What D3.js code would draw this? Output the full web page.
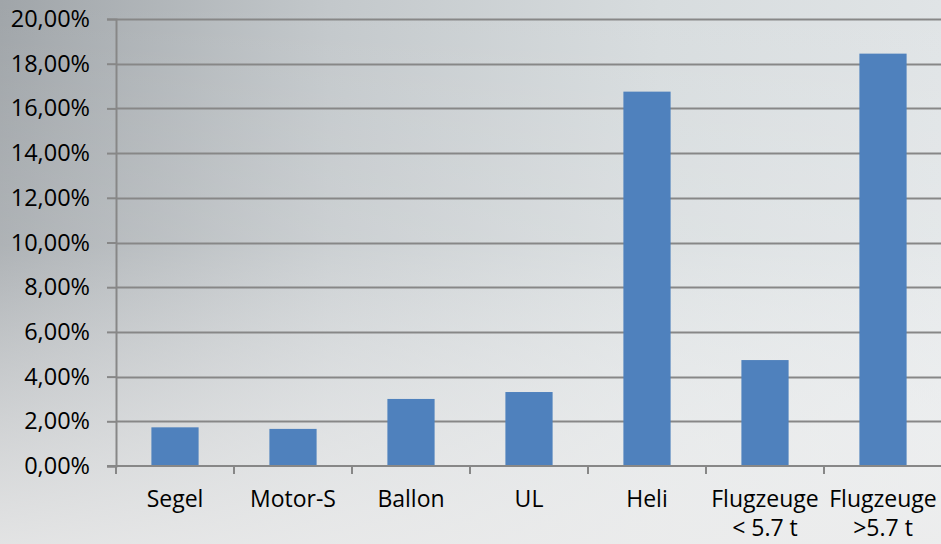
<!DOCTYPE html>
<html>
<head>
<meta charset="utf-8">
<script src="https://cdn.jsdelivr.net/npm/d3@7"></script>
<style>
  body { margin: 0; }
  svg { display: block; }
</style>
</head>
<body>
<div id="chart"></div>
<script>
var width = 941, height = 544

var categories = ['Segel', 'Motor-S', 'Ballon', 'UL', 'Heli', 'Flugzeuge\n< 5.7 t', 'Flugzeuge\n>5.7 t']
var values = [0.0173, 0.0166, 0.0300, 0.0331, 0.1675, 0.0474, 0.1845]
var yTicks = [0, 0.02, 0.04, 0.06, 0.08, 0.10, 0.12, 0.14, 0.16, 0.18, 0.20]

var margin = {top: 19, right: -1, bottom: 78, left: 116}

var svg = d3.select('#chart')
    .append('svg')
    .attr('width', width)
    .attr('height', height)

var defs = svg.append('defs')

var bgH = defs.append('linearGradient').attr('id', 'bgH')
    .attr('x1', 0).attr('x2', 1).attr('y1', 0).attr('y2', 0)
bgH.append('stop').attr('offset', '0%').attr('stop-color', '#a0a5a9')
bgH.append('stop').attr('offset', '35%').attr('stop-color', '#c3c8cb')
bgH.append('stop').attr('offset', '70%').attr('stop-color', '#d7dcde')
bgH.append('stop').attr('offset', '100%').attr('stop-color', '#e0e4e6')

var bgV = defs.append('linearGradient').attr('id', 'bgV')
    .attr('x1', 0).attr('x2', 0).attr('y1', 0).attr('y2', 1)
bgV.append('stop').attr('offset', '0%').attr('stop-color', '#ffffff').attr('stop-opacity', 0)
bgV.append('stop').attr('offset', '45%').attr('stop-color', '#ffffff').attr('stop-opacity', 0.15)
bgV.append('stop').attr('offset', '100%').attr('stop-color', '#eeeeee').attr('stop-opacity', 0.85)

svg.append('rect').attr('width', width).attr('height', height).attr('fill', 'url(#bgH)')
svg.append('rect').attr('width', width).attr('height', height).attr('fill', 'url(#bgV)')

var x = d3.scaleBand()
    .domain(categories)
    .range([margin.left, width - margin.right])
    .paddingInner(0.6)
    .paddingOuter(0.3)

var xAxisScale = d3.scaleBand()
    .domain(categories)
    .range([margin.left, width - margin.right])

var y = d3.scaleLinear()
    .domain([0, 0.20])
    .range([height - margin.bottom, margin.top])

// gridlines
svg.append('g')
    .selectAll('line')
    .data(yTicks.slice(1))
    .enter()
    .append('line')
    .attr('x1', margin.left)
    .attr('x2', width)
    .attr('y1', function(d) { return Math.round(y(d)) + 0.5 })
    .attr('y2', function(d) { return Math.round(y(d)) + 0.5 })
    .attr('stroke', '#878787')
    .attr('stroke-width', 2)

// bars
svg.append('g')
    .selectAll('rect')
    .data(values)
    .enter()
    .append('rect')
    .attr('x', function(d, i) { return x(categories[i]) })
    .attr('width', x.bandwidth())
    .attr('y', function(d) { return y(d) })
    .attr('height', function(d) { return y(0) - y(d) })
    .attr('fill', '#4f81bd')

// y axis
var yAxis = svg.append('g')
    .attr('transform', 'translate(' + margin.left + ',0)')
    .call(d3.axisLeft(y)
        .tickValues(yTicks)
        .tickSize(9)
        .tickPadding(17)
        .tickFormat(function(d) { return d3.format('.2f')(d * 100).replace('.', ',') + '%' }))

yAxis.select('.domain').attr('stroke', '#878787').attr('stroke-width', 2)
yAxis.selectAll('.tick line').attr('stroke', '#878787').attr('stroke-width', 2)
yAxis.selectAll('text')
    .attr('fill', '#000')
    .style('font-family', '"Open Sans", sans-serif')
    .style('font-size', '23.5px')

// x axis
var xAxis = svg.append('g')
    .attr('transform', 'translate(0,' + y(0) + ')')

xAxis.append('line')
    .attr('x1', margin.left - 9)
    .attr('x2', width)
    .attr('stroke', '#878787')
    .attr('stroke-width', 2)

xAxis.selectAll('.xtick')
    .data(categories)
    .enter()
    .append('line')
    .attr('class', 'xtick')
    .attr('x1', function(d) { return xAxisScale(d) })
    .attr('x2', function(d) { return xAxisScale(d) })
    .attr('y1', 0)
    .attr('y2', 8)
    .attr('stroke', '#878787')
    .attr('stroke-width', 2)

var labels = xAxis.selectAll('.xlabel')
    .data(categories)
    .enter()
    .append('text')
    .attr('class', 'xlabel')
    .attr('text-anchor', 'middle')
    .attr('fill', '#000')
    .style('font-family', '"Open Sans", sans-serif')
    .style('font-size', '23px')

labels.each(function(d) {
    var lines = d.split('\n')
    var t = d3.select(this)
    lines.forEach(function(l, k) {
        t.append('tspan')
            .attr('x', xAxisScale(d) + xAxisScale.bandwidth() / 2)
            .attr('y', 41 + k * 29)
            .text(l)
    })
})
</script>
</body>
</html>
